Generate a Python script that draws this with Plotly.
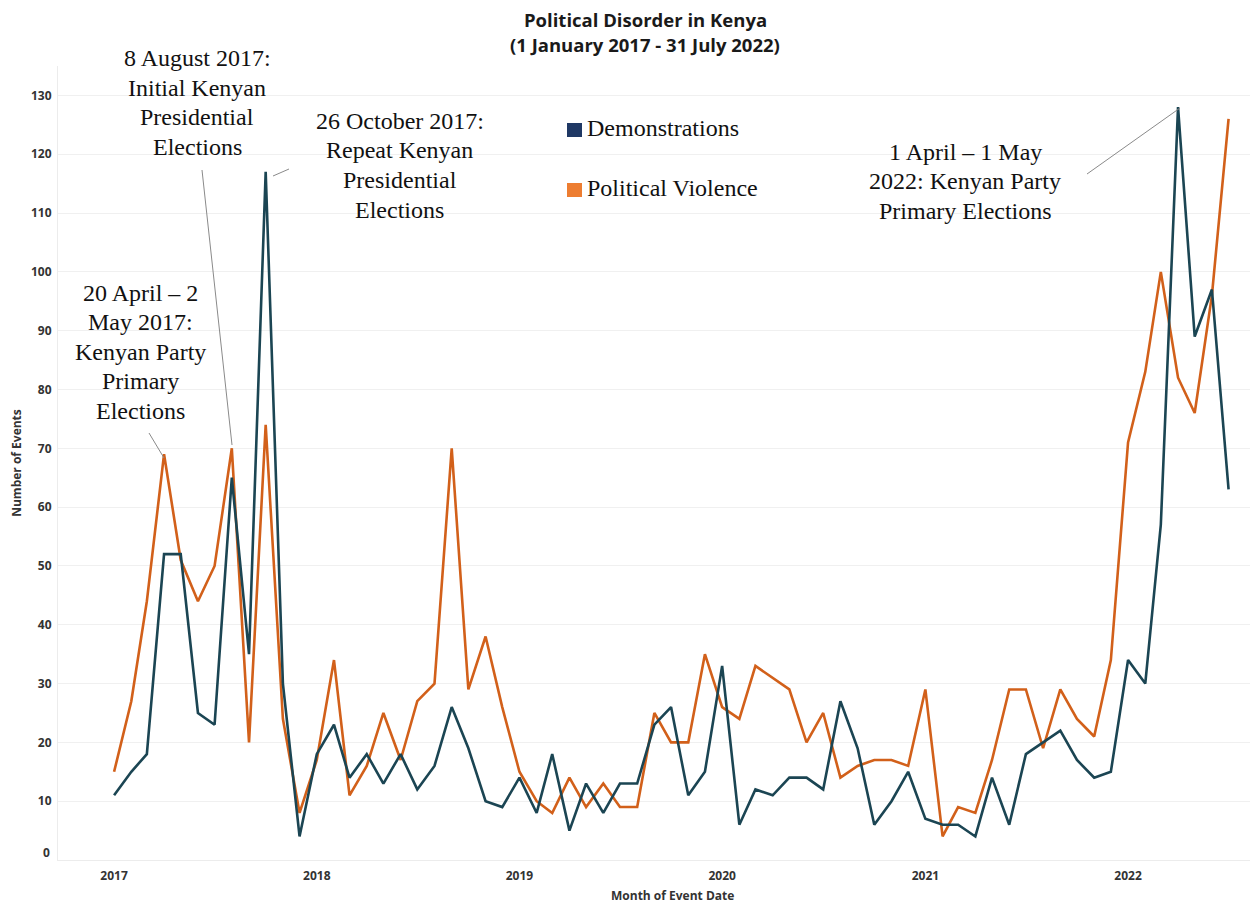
import pandas as pd
import plotly.graph_objects as go

months = pd.date_range("2017-01-01", periods=67, freq="MS")

demonstrations = [11, 15, 18, 52, 52, 25, 23, 65, 35, 117, 30, 4,
                  18, 23, 14, 18, 13, 18, 12, 16, 26, 19, 10, 9,
                  14, 8, 18, 5, 13, 8, 13, 13, 23, 26, 11, 15,
                  33, 6, 12, 11, 14, 14, 12, 27, 19, 6, 10, 15,
                  7, 6, 6, 4, 14, 6, 18, 20, 22, 17, 14, 15,
                  34, 30, 57, 128, 89, 97, 63]

political_violence = [15, 27, 44, 69, 51, 44, 50, 70, 20, 74, 24, 8,
                      17, 34, 11, 16, 25, 17, 27, 30, 70, 29, 38, 26,
                      15, 10, 8, 14, 9, 13, 9, 9, 25, 20, 20, 35,
                      26, 24, 33, 31, 29, 20, 25, 14, 16, 17, 17, 16,
                      29, 4, 9, 8, 17, 29, 29, 19, 29, 24, 21, 34,
                      71, 83, 100, 82, 76, 96, 126]

y_ticks = list(range(0, 131, 10))

# page has an 8px body margin -> figure is 8px smaller; coordinates below are
# given in reference-window pixels and converted to paper fractions.
OFF = 8
W, H = 1258 - OFF, 903 - OFF
PL, PR, PT, PB = 58, 1258, 66, 860  # plot area in window pixels
L, T = PL - OFF, PT - OFF
R, B = 0, H - (PB - OFF)
PW, PH = PR - PL, PB - PT


def px(x):
    return (x - PL) / PW


def py(y):
    return (PB - y) / PH


DEMO_COLOR = "#1b4553"
PV_COLOR = "#d2601a"
SERIF = "Liberation Serif"
SANS = "Open Sans"
TXT = "#111111"
AX = "#333333"

fig = go.Figure()
fig.add_trace(go.Scatter(x=months, y=political_violence, mode="lines", name="Political Violence",
                         line=dict(color=PV_COLOR, width=2.6)))
fig.add_trace(go.Scatter(x=months, y=demonstrations, mode="lines", name="Demonstrations",
                         line=dict(color=DEMO_COLOR, width=2.6)))

shapes = []
# white boxes behind annotation texts (mask gridlines)
for (x0, y0, x1, y1) in [(58, 268, 228, 428), (100, 48, 293, 166), (293, 106, 508, 228),
                         (843, 136, 1087, 230), (547, 88, 787, 150)]:
    shapes.append(dict(type="rect", xref="paper", yref="paper",
                       x0=px(x0), x1=px(x1), y0=py(y1), y1=py(y0),
                       fillcolor="white", line=dict(width=0), layer="between"))
# annotation leader lines
for (x0, y0, x1, y1) in [(149, 433, 164, 458), (202, 170, 232, 445),
                         (273, 176, 289, 169), (1087, 174, 1180, 108)]:
    shapes.append(dict(type="line", xref="paper", yref="paper",
                       x0=px(x0), y0=py(y0), x1=px(x1), y1=py(y1),
                       line=dict(color="#8a8a8a", width=1), layer="above"))
# legend squares
shapes.append(dict(type="rect", xref="paper", yref="paper", x0=px(567), x1=px(582),
                   y0=py(137), y1=py(123), fillcolor="#1F3864", line=dict(width=0)))
shapes.append(dict(type="rect", xref="paper", yref="paper", x0=px(567), x1=px(582),
                   y0=py(197), y1=py(183), fillcolor="#ED7D31", line=dict(width=0)))

annots = []


def note(lines, cx, y_first, step=29.5):
    for i, line in enumerate(lines):
        annots.append(dict(text=line, xref="paper", yref="paper", x=px(cx),
                           y=py(y_first + i * step - 2), xanchor="center", yanchor="middle",
                           showarrow=False, font=dict(family=SERIF, size=24, color=TXT)))


note(["20 April – 2", "May 2017:", "Kenyan Party", "Primary", "Elections"], 140.5, 295)
note(["8 August 2017:", "Initial Kenyan", "Presidential", "Elections"], 197, 60)
note(["26 October 2017:", "Repeat Kenyan", "Presidential", "Elections"], 400, 123)
note(["1 April – 1 May", "2022: Kenyan Party", "Primary Elections"], 965, 154)

for txt, yy in [("Demonstrations", 130), ("Political Violence", 190)]:
    annots.append(dict(text=txt, xref="paper", yref="paper", x=px(585), y=py(yy - 2),
                       xanchor="left", yanchor="middle", showarrow=False,
                       font=dict(family=SERIF, size=24, color=TXT)))

# title lines
for txt, yy in [("<b>Political Disorder in Kenya</b>", 20),
                ("<b>(1 January 2017 - 31 July 2022)</b>", 45)]:
    annots.append(dict(text=txt, xref="paper", yref="paper", x=px(645), y=py(yy),
                       xanchor="center", yanchor="middle", showarrow=False,
                       font=dict(family=SANS, size=18.5, color="#1a1a1a")))
# x axis title
annots.append(dict(text="<b>Month of Event Date</b>", xref="paper", yref="paper",
                   x=px(672), y=py(895), xanchor="center", yanchor="middle", showarrow=False,
                   font=dict(family=SANS, size=12, color=AX)))
# y tick "0" sits slightly above its gridline in the reference
annots.append(dict(text="<b>%d</b>" % y_ticks[0], xref="paper", yref="paper",
                   x=px(52), y=py(852), xanchor="right", yanchor="middle", showarrow=False,
                   font=dict(family=SANS, size=12, color=AX)))

fig.update_layout(
    width=W, height=H,
    margin=dict(l=L, r=R, t=T, b=B),
    paper_bgcolor="white", plot_bgcolor="white",
    showlegend=False,
    shapes=shapes, annotations=annots,
    xaxis=dict(range=["2016-09-22", "2022-08-23"], tickformat="%Y", dtick="M12",
               tick0="2017-01-01", showgrid=False, showline=True, linecolor="#ececec",
               ticks="outside", ticklen=5, tickcolor="rgba(0,0,0,0)",
               tickfont=dict(family=SANS, size=12, color=AX, weight="bold"),
               zeroline=False),
    yaxis=dict(range=[0, 135], tickvals=y_ticks[1:], showgrid=True, gridcolor="#f0f0f0",
               showline=True, linecolor="#ececec", zeroline=False, ticks="",
               ticklabelstandoff=3,
               tickfont=dict(family=SANS, size=12, color=AX, weight="bold"),
               title=dict(text="<b>Number of Events</b>", standoff=10,
                          font=dict(family=SANS, size=12, color=AX))),
)

fig.write_html("out.html")
